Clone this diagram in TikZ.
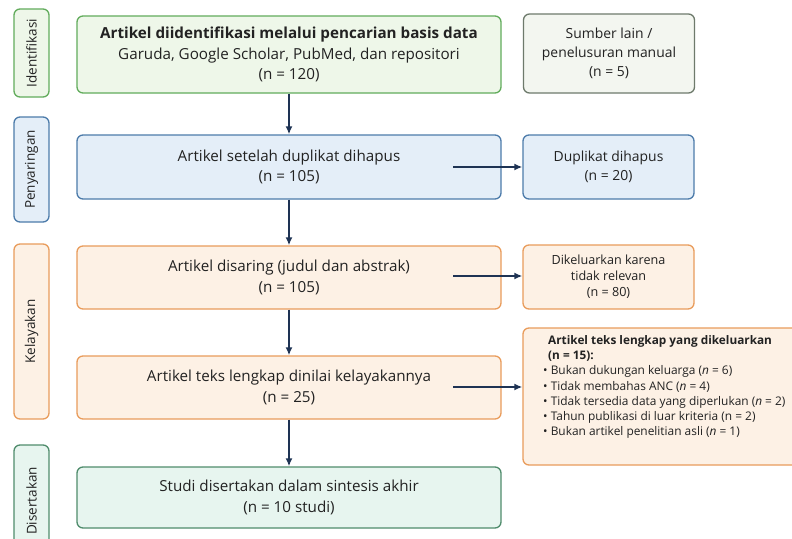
\documentclass[tikz,border=0pt]{standalone}
\usepackage{fontspec}
\setmainfont{Open Sans}
\usetikzlibrary{arrows.meta}
\definecolor{txt}{HTML}{222222}
\definecolor{navy}{HTML}{1E3354}
\definecolor{grnline}{HTML}{62AC5C}
\definecolor{grnfill}{HTML}{EEF7E9}
\definecolor{grayline}{HTML}{6E7A6C}
\definecolor{grayfill}{HTML}{F3F6F0}
\definecolor{blueline}{HTML}{4C7BAA}
\definecolor{bluefill}{HTML}{E4EEF8}
\definecolor{orgline}{HTML}{E99C5C}
\definecolor{orgfill}{HTML}{FDF1E5}
\definecolor{tealline}{HTML}{4F8C6C}
\definecolor{tealfill}{HTML}{E7F5EF}
\begin{document}
\begin{tikzpicture}[x=1pt,y=-1pt,
  box/.style={draw, rounded corners=6pt, line width=1.3pt, align=center, inner sep=2pt, text=txt},
  mainbox/.style={box, minimum width=424pt, font=\fontsize{15.2}{20.8}\selectfont},
  sidebox/.style={box, minimum width=171pt, font=\fontsize{13.9}{18.8}\selectfont},
  phase/.style={box, rotate=90, minimum height=35pt, font=\fontsize{13.5}{14}\selectfont},
  green/.style={draw=grnline, fill=grnfill},
  grey/.style={draw=grayline, fill=grayfill},
  blue/.style={draw=blueline, fill=bluefill},
  orange/.style={draw=orgline, fill=orgfill},
  teal/.style={draw=tealline, fill=tealfill},
  arr/.style={-{Latex[length=8pt,width=7pt]}, line width=1.6pt, draw=navy},
]
\useasboundingbox[fill=white] (0,0) rectangle (792,538);
% phase labels
\node[phase, green, minimum width=88pt] (pid) at (31.5,53) {Identifikasi};
\node[phase, blue, minimum width=105pt] (pscr) at (31.5,169.5) {Penyaringan};
\node[phase, orange, minimum width=175pt] (pel) at (31.5,331.5) {Kelayakan};
\node[phase, teal, minimum width=112pt] (pinc) at (31.5,501) {Disertakan};
% main column
\node[mainbox, green, minimum height=77pt] (ident) at (289,54.5)
  {\textbf{Artikel diidentifikasi melalui pencarian basis data}\\
   Garuda, Google Scholar, PubMed, dan repositori\\ (n = 120)};
\node[mainbox, blue, minimum height=64pt] (dedup) at (289,167)
  {Artikel setelah duplikat dihapus\\ (n = 105)};
\node[mainbox, orange, minimum height=63pt] (screen) at (289,277.5)
  {Artikel disaring (judul dan abstrak)\\ (n = 105)};
\node[mainbox, orange, minimum height=63pt] (full) at (289,387.5)
  {Artikel teks lengkap dinilai kelayakannya\\ (n = 25)};
\node[mainbox, teal, minimum height=61pt] (incl) at (289,497.5)
  {Studi disertakan dalam sintesis akhir\\ (n = 10 studi)};
% right column
\node[sidebox, grey, minimum height=79pt] (other) at (609,53.5)
  {Sumber lain /\\ penelusuran manual\\ (n = 5)};
\node[sidebox, blue, minimum height=64pt] (dup) at (608.5,167)
  {Duplikat dihapus\\ (n = 20)};
\node[sidebox, orange, minimum height=64pt, font=\fontsize{12.6}{16}\selectfont] (irrel) at (608.5,277)
  {Dikeluarkan karena\\ tidak relevan\\ (n = 80)};
\node[box, orange, minimum width=280pt, minimum height=137pt] (fullx) at (663,396.5) {};
\node[anchor=north west, align=left, inner sep=0pt, text=txt,
  font=\fontsize{11.9}{15.3}\selectfont] (fulltxt) at (543,335)
  {\hspace*{5pt}{\fontsize{11.8}{15.3}\selectfont\textbf{Artikel teks lengkap yang dikeluarkan}}\\
   \hspace*{5pt}{\fontsize{11.8}{15.3}\selectfont\textbf{(n = 15):}}\\
   \textbullet\ Bukan dukungan keluarga (\textit{n} = 6)\\
   \textbullet\ Tidak membahas ANC (\textit{n} = 4)\\
   \textbullet\ Tidak tersedia data yang diperlukan (\textit{n} = 2)\\
   \textbullet\ Tahun publikasi di luar kriteria (n = 2)\\
   \textbullet\ Bukan artikel penelitian asli (\textit{n} = 1)};
% arrows
\coordinate (c1) at (453,167);
\coordinate (c2) at (453,276);
\coordinate (c3) at (453,387);
\draw[arr] (ident) -- (dedup);
\draw[arr] (dedup) -- (screen);
\draw[arr] (screen) -- (full);
\draw[arr] (full) -- (incl);
\draw[arr] (c1) -- (dup.west |- c1);
\draw[arr] (c2) -- (irrel.west |- c2);
\draw[arr] (c3) -- (fullx.west |- c3);
\end{tikzpicture}
\end{document}
